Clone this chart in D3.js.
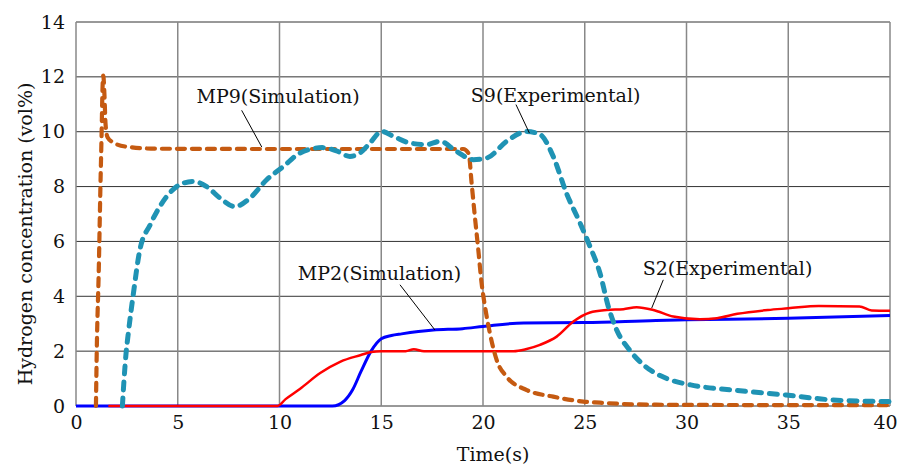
<!DOCTYPE html>
<html>
<head>
<meta charset="utf-8">
<script src="https://cdn.jsdelivr.net/npm/d3@7"></script>
<style>
  body { margin: 0; background: #fff; }
  text { font-family: "DejaVu Serif", serif; fill: #111; }
</style>
</head>
<body>
<script>
// series: [time (s), concentration (vol%)]
var mp9Sim = [[0.98,0],[1.02,2],[1.12,5],[1.2,8],[1.26,10],[1.3,11.5],[1.34,12.05],[1.4,11.3],[1.45,10.3],
  [1.55,9.8],[1.85,9.6],[2.5,9.45],[4,9.38],[10,9.37],[15,9.37],[19.03,9.37],[19.3,9.2],[19.44,8.13],
  [19.6,6.91],[19.77,5.69],[19.93,4.48],[20.1,3.62],[20.34,2.65],[20.67,1.68],[21.16,1.07],[22.15,0.58],
  [23.45,0.34],[24.93,0.16],[25.75,0.12],[27.4,0.06],[30,0.04],[40,0.03]];

var s9Exp = [[2.28,0],[2.36,0.95],[2.46,1.92],[2.57,2.65],[2.82,4.1],[3.14,5.7],[3.64,6.6],[4.46,7.64],
  [5.1,8.07],[5.76,8.19],[6.42,8.0],[7.08,7.58],[7.81,7.27],[8.55,7.58],[9.37,8.25],[10.19,8.73],[11.0,9.22],
  [12.1,9.42],[12.8,9.3],[13.46,9.1],[14.0,9.25],[14.45,9.59],[15.02,10.01],[15.6,9.83],[16.4,9.59],
  [17.23,9.53],[17.89,9.65],[18.7,9.28],[19.52,8.98],[20.18,9.04],[21.16,9.65],[22.15,10.01],[22.8,9.9],
  [23.45,9.1],[24.1,7.76],[24.77,6.67],[25.26,5.81],[25.75,4.84],[26.16,3.62],[26.57,2.77],[27.2,2.04],
  [28.0,1.43],[29.0,1.01],[30.2,0.77],[32.3,0.58],[34.9,0.4],[37.2,0.22],[40,0.16]];

var s2Exp = [[1.59,0],[9.9,0],[10.3,0.25],[11,0.62],[12,1.2],[13,1.62],[14,1.86],[14.5,1.97],[15,2.0],
  [16.2,2.0],[16.6,2.07],[17.1,2.0],[21.5,2.0],[22.1,2.07],[22.8,2.23],[23.62,2.53],[24.44,3.08],[25.26,3.41],
  [26.08,3.5],[26.9,3.53],[27.55,3.6],[28.37,3.5],[29.35,3.26],[30.66,3.16],[31.5,3.2],[32.5,3.36],[34,3.5],
  [35,3.56],[36.5,3.65],[38.5,3.63],[39.1,3.48],[40,3.47]];

var mp2Sim = [[0,0],[12.6,0],[13.2,0.2],[13.6,0.6],[14.0,1.25],[14.5,2.0],[15.0,2.45],[15.5,2.57],[16,2.63],
  [17.56,2.77],[19,2.82],[20,2.9],[22,3.03],[25,3.04],[28.5,3.12],[30,3.14],[35,3.2],[40,3.3]];

var xTicks = [0,5,10,15,20,25,30,35,40];
var yTicks = [0,2,4,6,8,10,12,14];

// labels: text, text anchor point, leader line start and end (data units)
var labels = [
  {text:"MP9(Simulation)",  at:[5.92,11.05],  from:[8.14,10.78],  to:[9.13,9.44]},
  {text:"S9(Experimental)", at:[19.4,11.1],   from:[21.62,10.99], to:[22.28,9.95]},
  {text:"MP2(Simulation)",  at:[10.9,4.6],    from:[15.92,4.42],  to:[17.64,2.77]},
  {text:"S2(Experimental)", at:[27.85,4.76],  from:[28.86,4.6],   to:[28.29,3.57]}
];

var W = 899, H = 466;
var margin = {top: 22, right: 9, bottom: 60, left: 76};
var width = W - margin.left - margin.right,
    height = H - margin.top - margin.bottom;

var svg = d3.select("body").append("svg")
    .attr("width", W)
    .attr("height", H);

var g = svg.append("g")
    .attr("transform", "translate(" + margin.left + "," + margin.top + ")");

var x = d3.scaleLinear().domain([0, 40]).range([0, width]);
var y = d3.scaleLinear().domain([0, 14]).range([height, 0]);

// grid
g.append("g").selectAll("line")
  .data(yTicks)
  .enter().append("line")
    .attr("x1", 0).attr("x2", width)
    .attr("y1", function(d){ return y(d); })
    .attr("y2", function(d){ return y(d); })
    .attr("stroke", "#333").attr("stroke-width", 1);

g.append("g").selectAll("line")
  .data(xTicks)
  .enter().append("line")
    .attr("x1", function(d){ return x(d); })
    .attr("x2", function(d){ return x(d); })
    .attr("y1", 0).attr("y2", height)
    .attr("stroke", "#888").attr("stroke-width", 1.5);

// axes (text only, lines are the grid)
var xAxis = g.append("g")
    .attr("transform", "translate(0," + height + ")")
    .call(d3.axisBottom(x).tickValues(xTicks).tickSize(0).tickPadding(10));
var yAxis = g.append("g")
    .call(d3.axisLeft(y).tickValues(yTicks).tickSize(0).tickPadding(11));
[xAxis, yAxis].forEach(function(a){
  a.select(".domain").remove();
  a.selectAll("text")
    .style("font-family", "DejaVu Serif")
    .style("font-size", "19px")
    .attr("fill", "#111");
});
// last label sits a bit left of its grid line, as in the picture
xAxis.selectAll(".tick text").filter(function(d){ return d === 40; }).attr("dx", -5);

var line = d3.line()
    .x(function(d){ return x(d[0]); })
    .y(function(d){ return y(d[1]); })
    .curve(d3.curveMonotoneX);

g.append("path").datum(mp2Sim)
    .attr("d", line).attr("fill", "none")
    .attr("stroke", "#0000ff").attr("stroke-width", 3);

g.append("path").datum(s2Exp)
    .attr("d", line).attr("fill", "none")
    .attr("stroke", "#ff0000").attr("stroke-width", 2.5);

g.append("path").datum(mp9Sim)
    .attr("d", line).attr("fill", "none")
    .attr("stroke", "#c55a11").attr("stroke-width", 4.2)
    .attr("stroke-linecap", "round")
    .attr("stroke-dasharray", "8,7");

g.append("path").datum(s9Exp)
    .attr("d", line).attr("fill", "none")
    .attr("stroke", "#1f93b4").attr("stroke-width", 5)
    .attr("stroke-linecap", "round")
    .attr("stroke-dasharray", "8,8");

// annotations
var ann = g.append("g").selectAll("g")
  .data(labels)
  .enter().append("g");

ann.append("line")
    .attr("x1", function(d){ return x(d.from[0]); })
    .attr("y1", function(d){ return y(d.from[1]); })
    .attr("x2", function(d){ return x(d.to[0]); })
    .attr("y2", function(d){ return y(d.to[1]); })
    .attr("stroke", "#000").attr("stroke-width", 1);

ann.append("text")
    .attr("x", function(d){ return x(d.at[0]); })
    .attr("y", function(d){ return y(d.at[1]); })
    .style("font-size", "19px")
    .text(function(d){ return d.text; });

// axis titles
svg.append("text")
    .attr("x", margin.left + x(20) + 10)
    .attr("y", 461)
    .attr("text-anchor", "middle")
    .style("font-size", "19px")
    .text("Time(s)");

svg.append("text")
    .attr("transform", "translate(32," + (margin.top + y(7) + 20) + ") rotate(-90)")
    .attr("text-anchor", "middle")
    .style("font-size", "19px")
    .text("Hydrogen concentration (vol%)");
</script>
</body>
</html>
